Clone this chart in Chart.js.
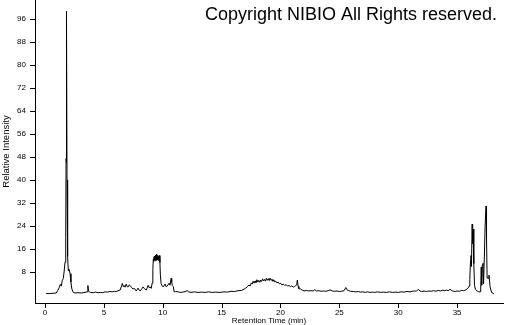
<!DOCTYPE html>
<html>
<head>
<meta charset="utf-8">
<script src="https://cdn.jsdelivr.net/npm/chart.js@4.4.1/dist/chart.umd.min.js"></script>
<style>
  html, body { margin: 0; padding: 0; background: #fff; }
  #wrap { width: 505px; height: 325px; position: relative; }
</style>
</head>
<body>
<div id="wrap"><canvas id="chromChart"></canvas></div>
<script>
const retentionTimes = [
  0.10, 0.40, 0.70, 0.95, 1.10, 1.20, 1.30, 1.38, 1.47, 1.55,
  1.62, 1.70, 1.76, 1.79, 1.81, 1.84, 1.87, 1.90, 1.94, 1.98,
  2.05, 2.13, 2.20, 2.28, 2.40, 2.55, 2.80, 3.10, 3.40, 3.58,
  3.64, 3.70, 3.85, 4.10, 4.30, 4.50, 4.70, 4.90, 5.10, 5.30,
  5.50, 5.70, 5.90, 6.05, 6.20, 6.40, 6.50, 6.57, 6.65, 6.72,
  6.80, 6.90, 6.98, 7.06, 7.15, 7.23, 7.35, 7.48, 7.60, 7.74,
  7.82, 7.90, 8.00, 8.08, 8.20, 8.33, 8.45, 8.60, 8.68, 8.76,
  8.85, 8.93, 9.02, 9.10, 9.16, 9.20, 9.23, 9.26, 9.29, 9.32,
  9.35, 9.38, 9.41, 9.44, 9.47, 9.50, 9.53, 9.56, 9.59, 9.62,
  9.65, 9.68, 9.72, 9.76, 9.80, 9.86, 9.95, 10.03, 10.12, 10.20,
  10.28, 10.37, 10.45, 10.54, 10.62, 10.71, 10.76, 10.82, 10.90, 10.97,
  11.10, 11.30, 11.48, 11.70, 11.90, 12.07, 12.20, 12.40, 12.70, 13.00,
  13.30, 13.60, 13.90, 14.20, 14.50, 14.88, 15.20, 15.50, 15.80, 16.10,
  16.40, 16.70, 16.90, 17.05, 17.20, 17.32, 17.42, 17.52, 17.60, 17.68,
  17.76, 17.84, 17.92, 18.00, 18.08, 18.16, 18.24, 18.32, 18.40, 18.48,
  18.56, 18.64, 18.72, 18.80, 18.88, 18.96, 19.04, 19.12, 19.20, 19.28,
  19.36, 19.44, 19.52, 19.60, 19.70, 19.80, 19.90, 20.00, 20.12, 20.24,
  20.36, 20.48, 20.60, 20.72, 20.84, 20.96, 21.08, 21.20, 21.30, 21.38,
  21.43, 21.50, 21.56, 21.70, 21.85, 22.00, 22.20, 22.40, 22.60, 22.80,
  22.90, 23.05, 23.25, 23.45, 23.65, 23.85, 24.05, 24.20, 24.40, 24.60,
  24.80, 25.00, 25.20, 25.40, 25.55, 25.65, 25.80, 25.94, 26.20, 26.40,
  26.60, 26.80, 27.00, 27.20, 27.40, 27.60, 27.80, 28.00, 28.25, 28.50,
  28.75, 29.00, 29.25, 29.50, 29.75, 30.00, 30.25, 30.50, 30.75, 31.00,
  31.20, 31.40, 31.55, 31.70, 31.85, 32.00, 32.20, 32.40, 32.60, 32.80,
  33.00, 33.20, 33.40, 33.60, 33.80, 33.95, 34.10, 34.25, 34.40, 34.55,
  34.70, 34.85, 35.00, 35.20, 35.40, 35.55, 35.70, 35.85, 35.95, 36.02,
  36.08, 36.14, 36.18, 36.22, 36.28, 36.32, 36.36, 36.42, 36.48, 36.56,
  36.70, 36.85, 37.00, 37.05, 37.09, 37.14, 37.20, 37.25, 37.32, 37.38,
  37.46, 37.50, 37.55, 37.63, 37.71, 37.80, 37.93, 38.12
];
const relIntensity = [
  0.6, 0.6, 0.7, 0.8, 1.8, 2.6, 3.8, 3.2, 5.2, 5.8,
  8.1, 11.5, 20.0, 47.5, 46.0, 98.7, 40.0, 14.0, 13.5, 8.5,
  9.0, 7.5, 4.6, 2.2, 1.0, 0.8, 0.9, 0.8, 1.0, 1.2,
  3.4, 1.4, 1.0, 0.9, 1.1, 0.9, 1.0, 0.9, 1.2, 1.1,
  1.3, 1.2, 1.4, 1.3, 1.6, 1.9, 3.3, 4.1, 3.0, 3.4,
  2.8, 3.9, 3.0, 2.9, 3.6, 3.4, 2.7, 2.2, 2.4, 1.5,
  1.9, 2.5, 1.8, 1.5, 2.1, 2.9, 2.3, 1.8, 2.6, 3.5,
  2.6, 2.9, 2.4, 4.2, 9.0, 12.5, 11.8, 13.4, 12.2, 13.6,
  12.0, 14.0, 12.3, 13.2, 12.1, 14.3, 12.6, 13.9, 12.4, 13.5,
  12.0, 13.1, 13.8, 11.4, 7.0, 4.1, 3.3, 2.9, 3.4, 3.9,
  3.0, 3.2, 3.6, 4.2, 3.5, 5.9, 4.5, 3.4, 3.0, 1.2,
  1.3, 1.2, 1.0, 1.1, 1.3, 1.6, 1.2, 1.0, 1.2, 1.0,
  1.1, 1.0, 1.2, 1.0, 1.1, 1.0, 1.2, 1.1, 1.4, 1.3,
  1.6, 1.7, 2.1, 2.5, 3.0, 3.6, 3.2, 4.3, 3.9, 4.9,
  4.2, 5.0, 4.4, 5.4, 4.6, 5.2, 4.5, 5.3, 4.8, 5.7,
  5.0, 5.5, 4.9, 5.9, 5.2, 5.8, 5.1, 6.0, 5.2, 5.5,
  4.9, 5.3, 4.6, 4.9, 4.3, 4.6, 4.0, 4.2, 3.6, 3.9,
  3.4, 3.7, 3.2, 3.4, 3.0, 3.3, 2.8, 3.1, 3.4, 3.6,
  5.3, 3.1, 2.3, 2.2, 1.8, 1.5, 1.7, 1.5, 1.6, 1.5,
  2.0, 1.5, 1.6, 1.4, 1.5, 1.4, 1.6, 1.9, 1.5, 1.4,
  1.5, 1.3, 1.4, 1.6, 2.7, 1.9, 1.6, 1.4, 1.3, 1.2,
  1.3, 1.1, 1.2, 1.0, 1.2, 1.0, 1.1, 1.0, 1.2, 1.0,
  1.1, 1.0, 1.2, 1.0, 1.1, 1.0, 1.2, 1.1, 1.3, 1.2,
  1.4, 1.5, 1.4, 2.1, 1.5, 1.3, 1.5, 1.3, 1.5, 1.4,
  1.6, 1.4, 1.7, 1.5, 1.8, 1.6, 1.8, 1.6, 2.1, 1.6,
  1.4, 1.3, 1.5, 1.4, 1.7, 1.6, 1.8, 2.2, 2.6, 3.2,
  5.5, 12.1, 13.8, 10.0, 24.7, 18.0, 23.0, 11.0, 3.5, 2.0,
  1.5, 1.2, 1.2, 9.8, 3.5, 10.5, 11.1, 4.0, 14.0, 24.0,
  31.0, 20.0, 6.0, 5.9, 7.0, 3.0, 1.0, 0.5
];

// Marcas de los ejes
const xTickValues = [];
for (let t = 0; t <= 38; t++) xTickValues.push(t);
const yTickValues = [];
for (let v = 0; v <= 102; v += 2) yTickValues.push(v);
const xLabelStep = 5;
const yLabelStep = 8;

const axisFont = { family: "Arial, 'Liberation Sans', sans-serif", size: 8 };

// Dibuja las marcas mayores y menores con longitudes distintas
const tickMarks = {
    id: 'tickMarks',
    afterDraw(chart) {
        const ctx = chart.ctx;
        const xs = chart.scales.x;
        const ys = chart.scales.y;
        ctx.save();
        ctx.strokeStyle = '#000';
        ctx.lineWidth = 1;
        ctx.beginPath();
        xs.ticks.forEach(t => {
            const px = Math.round(xs.getPixelForValue(t.value)) + 0.5;
            const len = t.value % xLabelStep === 0 ? 5 : 3;
            ctx.moveTo(px, xs.top);
            ctx.lineTo(px, xs.top + len);
        });
        ys.ticks.forEach(t => {
            const py = Math.round(ys.getPixelForValue(t.value)) + 0.5;
            const len = (t.value % yLabelStep === 0 && t.value > 0) ? 5 : 3;
            ctx.moveTo(ys.right, py);
            ctx.lineTo(ys.right - len, py);
        });
        ctx.stroke();
        ctx.restore();
    }
};

// Texto de copyright arriba a la derecha
const copyright = {
    id: 'copyright',
    afterDraw(chart) {
        const ctx = chart.ctx;
        ctx.save();
        ctx.font = "18px Arial, 'Liberation Sans', sans-serif";
        ctx.fillStyle = '#000';
        ctx.textAlign = 'right';
        ctx.textBaseline = 'alphabetic';
        ctx.fillText('Copyright NIBIO All Rights reserved.', 497, 20);
        ctx.restore();
    }
};

const points = retentionTimes.map((t, i) => ({ x: t, y: relIntensity[i] }));

new Chart(document.getElementById('chromChart'), {
    type: 'line',
    data: {
        datasets: [{
            data: points,
            borderColor: '#000',
            borderWidth: 1,
            pointRadius: 0,
            tension: 0,
            fill: false
        }]
    },
    options: {
        responsive: true,
        maintainAspectRatio: false,
        animation: false,
        layout: { padding: { left: 0, right: 2, top: 0, bottom: 0 } },
        plugins: {
            legend: { display: false },
            tooltip: { enabled: false }
        },
        scales: {
            x: {
                type: 'linear',
                min: -0.85,
                max: 38.9,
                grid: { display: false, drawTicks: false },
                border: { display: true, color: '#000', width: 1 },
                afterBuildTicks: s => { s.ticks = xTickValues.map(v => ({ value: v })); },
                afterFit: s => { s.height = 22; s.paddingLeft = 0; s.paddingRight = 0; },
                ticks: {
                    autoSkip: false,
                    maxRotation: 0,
                    padding: 5,
                    color: '#000',
                    font: axisFont,
                    callback: v => (v % xLabelStep === 0 ? String(v) : null)
                },
                title: {
                    display: true,
                    text: 'Retention Time (min)',
                    color: '#000',
                    font: axisFont,
                    padding: { top: 0, bottom: -1 }
                }
            },
            y: {
                type: 'linear',
                min: -2.68,
                max: 102.6,
                grid: { display: false, drawTicks: false },
                border: { display: true, color: '#000', width: 1 },
                afterBuildTicks: s => { s.ticks = yTickValues.map(v => ({ value: v })); },
                afterFit: s => { s.width = 35; s.paddingTop = 0; s.paddingBottom = 0; },
                ticks: {
                    autoSkip: false,
                    padding: 9,
                    color: '#000',
                    font: axisFont,
                    callback: v => (v % yLabelStep === 0 && v > 0 ? String(v) : null)
                },
                title: {
                    display: true,
                    text: 'Relative Intensity',
                    color: '#000',
                    font: { family: axisFont.family, size: 9.5 },
                    padding: { top: 1, bottom: 0 }
                }
            }
        }
    },
    plugins: [tickMarks, copyright]
});
</script>
</body>
</html>
